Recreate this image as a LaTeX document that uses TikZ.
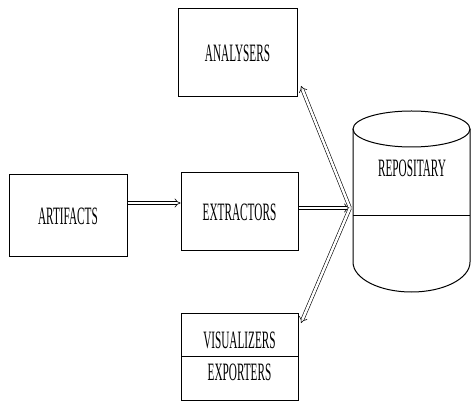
\documentclass[tikz,border=0pt]{standalone}
\usepackage{fontspec}
\setmainfont[FakeStretch=0.45]{Liberation Serif}
\usetikzlibrary{arrows.meta}

\tikzset{
  blk/.style={draw, line width=1pt, inner sep=0pt, font=\fontsize{25}{27}\selectfont},
  dbl/.style={double, double distance=2.5pt, line width=0.6pt, -{Implies}}
}

\begin{document}
\begin{tikzpicture}[x=1pt,y=-1pt]
  \useasboundingbox (0,0) rectangle (471,403);
  \node[blk, minimum width=119pt, minimum height=88pt] (analysers) at (237.5,53) {ANALYSERS};
  \node[blk, minimum width=118pt, minimum height=82pt] (artifacts) at (68,216) {ARTIFACTS};
  \node[blk, minimum width=117pt, minimum height=78pt] (extractors) at (239.5,212) {EXTRACTORS};
  \node[blk, minimum width=117pt, minimum height=43pt, text height=28pt] (visualizers) at (239.5,334.5) {VISUALIZERS};
  \node[blk, minimum width=117pt, minimum height=44pt, text depth=12pt] (exporters) at (239.5,378) {EXPORTERS};
  % repository drum
  \draw[line width=1pt] (411.5,129) ellipse (58.5pt and 18pt);
  \draw[line width=1pt] (353,129) -- (353,262) arc[start angle=180, end angle=360, x radius=58.5pt, y radius=30pt] -- (470,129);
  \draw[line width=1pt] (353,216) -- (470,216);
  \node[font=\fontsize{25}{27}\selectfont] (repo) at (412,168) {REPOSITARY};
  % connectors
  \coordinate (tip) at (350,208);
  \coordinate (toan) at (301,86);
  \coordinate (tovis) at (301,323);
  \draw[dbl] ([yshift=13pt]artifacts.east) -- ([yshift=9pt]extractors.west);
  \draw[dbl] ([yshift=4pt]extractors.east) -- (tip);
  \draw[dbl] (tip) -- (toan);
  \draw[dbl] (tip) -- (tovis);
\end{tikzpicture}
\end{document}
